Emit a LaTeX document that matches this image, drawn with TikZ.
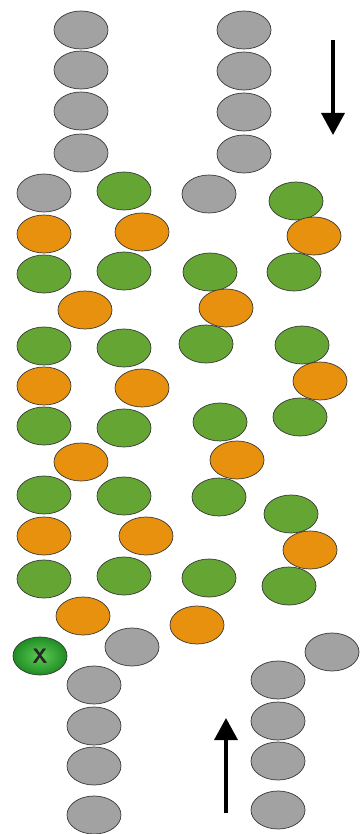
\documentclass[tikz,border=0pt]{standalone}
\usetikzlibrary{shapes.geometric,arrows.meta}
\definecolor{cgray}{RGB}{162,162,162}
\definecolor{cgreen}{RGB}{100,165,52}
\definecolor{corange}{RGB}{232,145,14}
\definecolor{cedge}{RGB}{55,55,55}
\definecolor{xin}{RGB}{95,205,85}
\definecolor{xout}{RGB}{30,140,35}
\tikzset{
  bead/.style={ellipse, minimum width=54pt, minimum height=38pt, inner sep=0pt, draw=cedge, line width=0.7pt},
  gb/.style={bead, fill=cgray},
  ge/.style={bead, fill=cgreen},
  ob/.style={bead, fill=corange},
  xb/.style={bead, inner color=xin, outer color=xout, font=\sffamily\bfseries\fontsize{21}{21}\selectfont, text=black!85},
  flow/.style={line width=3.5pt, -{Triangle[width=23pt,length=22pt]}}
}
\begin{document}
\begin{tikzpicture}[x=1pt,y=-1pt]
\useasboundingbox[fill=white] (0,0) rectangle (362,834);
% top gray strands
\node[gb] (t1) at (81,30) {};
\node[gb] (t2) at (81,70) {};
\node[gb] (t3) at (81,111) {};
\node[gb] (t4) at (81,153) {};
\node[gb] (u1) at (244,30) {};
\node[gb] (u2) at (244,71) {};
\node[gb] (u3) at (244,112) {};
\node[gb] (u4) at (244,154) {};
% row 1
\node[gb] (r1a) at (44,193) {};
\node[ge] (r1b) at (124,191) {};
\node[gb] (r1c) at (209,194) {};
\node[ge] (r1d) at (296,201) {};
% row 2 orange
\node[ob] (r2a) at (44,234) {};
\node[ob] (r2b) at (142,232) {};
\node[ob] (r2d) at (314,236) {};
% row 3 green
\node[ge] (r3a) at (44,274) {};
\node[ge] (r3b) at (124,271) {};
\node[ge] (r3c) at (210,272) {};
\node[ge] (r3d) at (294,272) {};
% row 4 orange
\node[ob] (r4a) at (85,310) {};
\node[ob] (r4c) at (226,308) {};
% row 5 green
\node[ge] (r5a) at (44,346) {};
\node[ge] (r5b) at (124,348) {};
\node[ge] (r5c) at (206,344) {};
\node[ge] (r5d) at (302,345) {};
% row 6 orange
\node[ob] (r6a) at (44,386) {};
\node[ob] (r6b) at (142,388) {};
\node[ob] (r6d) at (320,381) {};
% row 7 green
\node[ge] (r7a) at (44,426) {};
\node[ge] (r7b) at (124,428) {};
\node[ge] (r7c) at (220,422) {};
\node[ge] (r7d) at (300,417) {};
% row 8 orange
\node[ob] (r8a) at (81,462) {};
\node[ob] (r8c) at (237,460) {};
% row 9 green
\node[ge] (r9a) at (44,495) {};
\node[ge] (r9b) at (124,496) {};
\node[ge] (r9c) at (219,497) {};
\node[ge] (r9d) at (291,514) {};
% row 10 orange
\node[ob] (r10a) at (44,536) {};
\node[ob] (r10b) at (146,536) {};
\node[ob] (r10d) at (310,550) {};
% row 11 green
\node[ge] (r11a) at (44,579) {};
\node[ge] (r11b) at (124,576) {};
\node[ge] (r11c) at (209,578) {};
\node[ge] (r11d) at (289,586) {};
% row 12 orange
\node[ob] (r12a) at (83,616) {};
\node[ob] (r12c) at (197,625) {};
% bottom
\node[gb] (b0) at (132,647) {};
\node[gb] (c0) at (332,652) {};
\node[xb] (x) at (40,656) {X};
\node[gb] (b1) at (94,685) {};
\node[gb] (b2) at (94,726) {};
\node[gb] (b3) at (94,766) {};
\node[gb] (b4) at (94,815) {};
\node[gb] (c1) at (278,680) {};
\node[gb] (c2) at (278,721) {};
\node[gb] (c3) at (278,761) {};
\node[gb] (c4) at (278,810) {};
% arrows
\coordinate (dA) at (333,40);
\coordinate (dB) at (333,135);
\coordinate (uA) at (226,813);
\coordinate (uB) at (226,718);
\draw[flow] (dA) -- (dB);
\draw[flow] (uA) -- (uB);
\end{tikzpicture}
\end{document}
